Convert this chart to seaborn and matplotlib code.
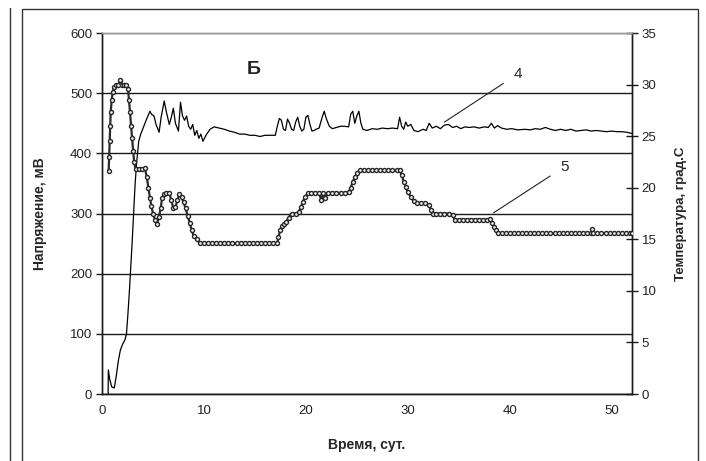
import matplotlib
matplotlib.use("Agg")
import matplotlib.pyplot as plt
import pandas as pd
import seaborn as sns
from matplotlib.lines import Line2D
from matplotlib.patches import Rectangle


# data: curve 4 (voltage, mV, left axis)
DAYS_4 = [0.60, 0.62, 0.75, 0.95, 1.2, 1.4, 1.6, 1.8, 2.0, 2.25, 2.4, 2.55, 2.7, 2.8,
          2.95, 3.1, 3.25, 3.4, 3.6, 3.8, 4.1, 4.4, 4.7, 4.85, 5.1, 5.3, 5.6, 5.8,
          6.1, 6.3, 6.6, 6.8, 7.0, 7.2, 7.5, 7.7, 7.9, 8.1, 8.3, 8.5, 8.7, 8.9, 9.1,
          9.3, 9.5, 9.7, 9.9, 10.2, 10.6, 11.0, 11.5, 12.0, 12.5, 13.0, 13.5, 14.0,
          14.5, 15.0, 15.5, 16.0, 16.5, 17.0, 17.2, 17.4, 17.6, 17.8, 18.0, 18.2,
          18.4, 18.6, 18.8, 19.0, 19.2, 19.4, 19.6, 19.8, 20.0, 20.2, 20.4, 20.6,
          20.8, 21.0, 21.3, 21.6, 21.8, 22.0, 22.3, 22.6, 23.0, 23.4, 23.8, 24.2,
          24.4, 24.6, 24.8, 25.0, 25.2, 25.4, 25.6, 26.0, 26.5, 27.0, 27.5, 28.0,
          28.5, 29.0, 29.2, 29.4, 29.6, 29.8, 30.0, 30.3, 30.6, 31.0, 31.5, 31.8,
          32.1, 32.4, 32.8, 33.2, 33.6, 34.0, 34.4, 34.8, 35.2, 35.6, 36.0, 36.5,
          37.0, 37.5, 37.9, 38.2, 38.5, 38.8, 39.2, 39.7, 40.2, 40.8, 41.5, 42.0,
          42.5, 43.0, 43.5, 44.0, 44.5, 45.0, 45.5, 46.0, 46.5, 47.0, 47.5, 48.0,
          48.5, 49.0, 49.5, 50.0, 50.5, 51.0, 51.5, 52.0]
VOLT_4 = [0, 40, 25, 12, 10, 30, 55, 73, 82, 90, 100, 135, 175, 205,
          250, 300, 350, 385, 420, 432, 445, 458, 470, 465, 462, 448, 435, 460,
          487, 470, 448, 460, 475, 450, 437, 485, 462, 455, 462, 445, 440, 448, 430,
          438, 425, 432, 420, 430, 440, 444, 442, 440, 437, 435, 432, 432,
          430, 430, 428, 430, 430, 430, 445, 458, 455, 440, 438, 457,
          450, 440, 438, 452, 460, 445, 437, 440, 460, 463, 448, 437,
          438, 440, 442, 460, 470, 458, 445, 441, 443, 445, 445, 444,
          465, 470, 450, 462, 470, 450, 440, 438, 441, 440, 442, 441,
          442, 441, 460, 445, 440, 452, 445, 448, 438, 436, 440, 438,
          450, 442, 445, 441, 447, 448, 443, 445, 441, 444, 443, 444,
          442, 444, 443, 450, 442, 446, 442, 440, 441, 439, 440, 439,
          441, 440, 443, 440, 438, 440, 438, 440, 437, 438, 439, 437,
          438, 437, 436, 437, 436, 436, 435, 433]

# data: curve 5 (temperature, deg C, right axis)
DAYS_5 = [0.65, 0.70, 0.75, 0.80, 0.85, 0.95, 1.05, 1.2, 1.4, 1.6, 1.8, 2.0, 2.2,
          2.4, 2.55, 2.65, 2.75, 2.85, 2.95, 3.05, 3.15, 3.3, 3.6, 3.9, 4.2, 4.4,
          4.55, 4.7, 4.85, 5.0, 5.2, 5.4, 5.6, 5.75, 5.9, 6.1, 6.3, 6.6, 6.8, 7.0,
          7.2, 7.4, 7.6, 7.8, 8.0, 8.2, 8.4, 8.6, 8.8, 9.0, 9.3, 9.6, 10.0, 10.4,
          10.8, 11.2, 11.6, 12.0, 12.4, 12.8, 13.2, 13.6, 14.0, 14.4, 14.8, 15.2,
          15.6, 16.0, 16.4, 16.8, 17.2, 17.3, 17.5, 17.7, 17.9, 18.1, 18.3, 18.6,
          19.0, 19.3, 19.5, 19.7, 19.9, 20.2, 20.5, 20.9, 21.3, 21.5, 21.7, 21.9,
          22.2, 22.6, 23.0, 23.4, 23.8, 24.2, 24.4, 24.6, 24.8, 25.0, 25.3, 25.7,
          26.1, 26.5, 26.9, 27.3, 27.7, 28.1, 28.5, 28.9, 29.2, 29.4, 29.6, 29.8,
          30.0, 30.3, 30.6, 30.9, 31.3, 31.7, 32.1, 32.3, 32.5, 32.8, 33.2, 33.6,
          34.0, 34.4, 34.6, 35.0, 35.4, 35.8, 36.2, 36.6, 37.0, 37.4, 37.8, 38.1,
          38.3, 38.5, 38.7, 38.9, 39.2, 39.6, 40.0, 40.4, 40.8, 41.2, 41.6, 42.0,
          42.4, 42.8, 43.2, 43.6, 44.0, 44.4, 44.8, 45.2, 45.6, 46.0, 46.4, 46.8,
          47.2, 47.6, 48.0, 48.1, 48.2, 48.6, 49.0, 49.4, 49.8, 50.2, 50.6, 51.0,
          51.4, 51.8, 52.0]
TEMP_5 = [21.6, 23.0, 24.5, 26.0, 27.3, 28.5, 29.3, 29.8, 30.0, 30.0, 30.4, 30.0, 30.0,
          30.0, 29.6, 28.5, 27.3, 26.0, 24.8, 23.6, 22.5, 21.8, 21.8, 21.8, 21.9, 21.0,
          20.0, 19.0, 18.2, 17.5, 16.9, 16.5, 17.2, 18.0, 19.0, 19.4, 19.5, 19.5, 18.8, 18.0,
          18.1, 18.8, 19.4, 19.1, 18.6, 18.0, 17.3, 16.6, 15.9, 15.3, 15.0, 14.6, 14.6, 14.6,
          14.6, 14.6, 14.6, 14.6, 14.6, 14.6, 14.6, 14.6, 14.6, 14.6, 14.6, 14.6,
          14.6, 14.6, 14.6, 14.6, 14.6, 15.2, 15.9, 16.3, 16.5, 16.7, 17.1, 17.5,
          17.5, 17.6, 18.1, 18.6, 19.1, 19.5, 19.5, 19.5, 19.5, 18.8, 19.5, 19.0,
          19.5, 19.5, 19.5, 19.5, 19.5, 19.6, 20.0, 20.6, 21.0, 21.4, 21.7, 21.7,
          21.7, 21.7, 21.7, 21.7, 21.7, 21.7, 21.7, 21.7, 21.7, 21.2, 20.6, 20.1,
          19.6, 19.1, 18.7, 18.5, 18.5, 18.5, 18.3, 17.8, 17.5, 17.5, 17.5, 17.5,
          17.5, 17.4, 16.9, 16.9, 16.9, 16.9, 16.9, 16.9, 16.9, 16.9, 16.9, 17.0,
          16.6, 16.2, 15.9, 15.6, 15.6, 15.6, 15.6, 15.6, 15.6, 15.6, 15.6, 15.6,
          15.6, 15.6, 15.6, 15.6, 15.6, 15.6, 15.6, 15.6, 15.6, 15.6, 15.6, 15.6,
          15.6, 15.6, 15.6, 16.0, 15.6, 15.6, 15.6, 15.6, 15.6, 15.6, 15.6, 15.6,
          15.6, 15.6, 15.6]

X_TICKS = [0, 10, 20, 30, 40, 50]
VOLT_TICKS = [0, 100, 200, 300, 400, 500, 600]
TEMP_TICKS = [0, 5, 10, 15, 20, 25, 30, 35]

XLABEL = "Время, сут."
YLABEL_LEFT = "Напряжение, мВ"
YLABEL_RIGHT = "Температура, град.С"
PANEL = "Б"


def main():
    sns.set_style("white")
    plt.rcParams["font.family"] = ["Liberation Sans", "DejaVu Sans"]

    fig, ax = plt.subplots(figsize=(7.06, 4.61), dpi=100)
    fig.subplots_adjust(left=0.1445, right=0.8952, bottom=0.1453, top=0.9284)
    ax2 = ax.twinx()

    df4 = pd.DataFrame({"day": DAYS_4, "volt": VOLT_4})
    df5 = pd.DataFrame({"day": DAYS_5, "temp": TEMP_5})

    sns.lineplot(df4, x="day", y="volt", ax=ax, color="black", lw=0.9,
                 estimator=None, sort=False, zorder=3)
    sns.lineplot(df5, x="day", y="temp", ax=ax2, color="#2a2a2a", lw=1.6,
                 marker="o", ms=2.9, mfc="#f4f4f4", mec="#262626", mew=1.0,
                 estimator=None, sort=False, zorder=3)

    ax.set_xlim(0, 52)
    ax.set_ylim(0, 600)
    ax2.set_ylim(0, 35)
    ax.set_xticks(X_TICKS)
    ax.set_yticks(VOLT_TICKS)
    ax2.set_yticks(TEMP_TICKS)

    ax.yaxis.grid(True, color="#1a1a1a", lw=1.0)
    ax.get_ygridlines()[-1].set_color("#9a9a9a")
    ax.set_axisbelow(True)

    for a in (ax, ax2):
        for s in a.spines.values():
            s.set_color("#1a1a1a")
            s.set_linewidth(1.0)
        a.spines["top"].set_color("#9a9a9a")
    ax.tick_params(axis="both", direction="out", length=4, width=1,
                   color="#1a1a1a", labelsize=9.5, labelcolor="#222222", pad=4)
    ax.tick_params(axis="y", pad=3)
    ax2.tick_params(axis="y", direction="inout", length=8, width=1,
                    color="#1a1a1a", labelsize=9.5, labelcolor="#222222", pad=3)

    ax.set_xlabel(XLABEL, fontsize=10, fontweight="bold")
    ax.set_ylabel(YLABEL_LEFT, fontsize=10, fontweight="bold")
    ax2.set_ylabel(YLABEL_RIGHT, fontsize=9.5, fontweight="bold")
    ax.xaxis.set_label_coords(0.5, -0.122)
    ax.yaxis.set_label_coords(-0.104, 0.5)
    ax2.yaxis.set_label_coords(1.081, 0.5)

    ax.text(14.9, 540, PANEL, fontsize=14, fontweight="bold",
            ha="center", va="center")
    ax.annotate("4", xy=(33.6, 452), xytext=(40.8, 532), fontsize=11,
                ha="center", va="center",
                arrowprops=dict(arrowstyle="-", color="#222222", lw=0.8,
                                shrinkA=6, shrinkB=0))
    ax.annotate("5", xy=(38.4, 301), xytext=(45.4, 378), fontsize=11,
                ha="center", va="center",
                arrowprops=dict(arrowstyle="-", color="#222222", lw=0.8,
                                shrinkA=6, shrinkB=0))

    # outer chart border and neighbouring panel edge
    fig.add_artist(Rectangle((22 / 706, -0.05), (698 - 22) / 706, 1.05 - 9 / 461,
                             fill=False, ec="#333333", lw=1.0,
                             transform=fig.transFigure))
    fig.add_artist(Line2D([10 / 706, 10 / 706], [0, 1 - 8 / 461], color="#333333",
                          lw=1.0, transform=fig.transFigure))

    plt.savefig("out.png", dpi=100)
    plt.close()


if __name__ == "__main__":
    main()
